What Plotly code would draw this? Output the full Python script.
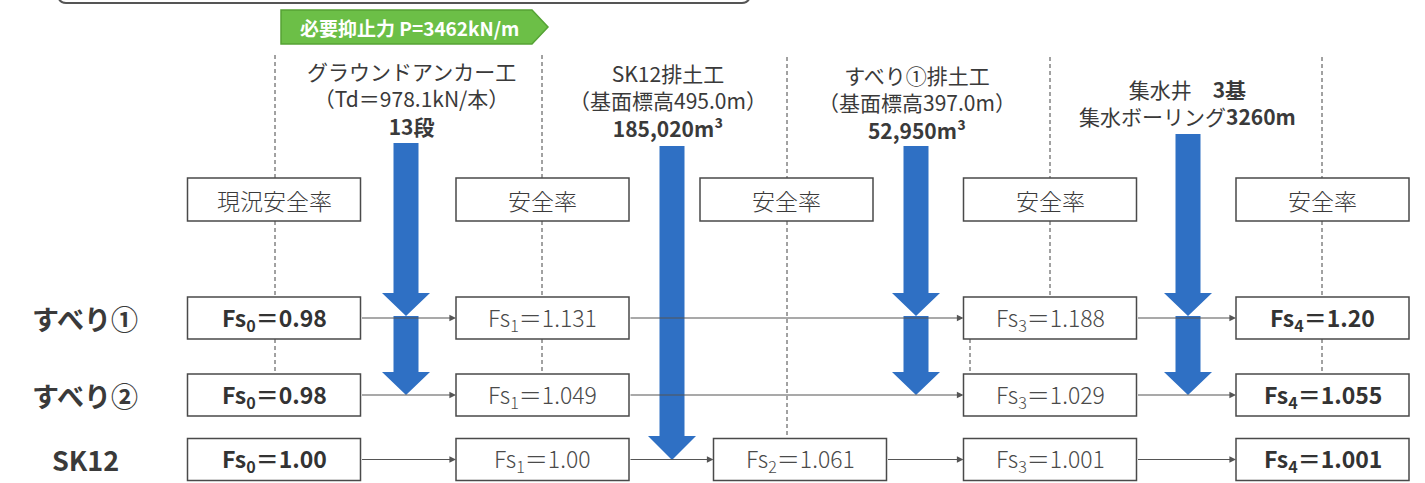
import plotly.graph_objects as go

# ---------------- data ----------------
row_labels = ["すべり①", "すべり②", "SK12"]
stage_headers = ["現況安全率", "安全率", "安全率", "安全率", "安全率"]
stage_index = [0, 1, 2, 3, 4]
# safety factors per row and stage (None = no box)
fs_row1 = ["0.98", "1.131", None, "1.188", "1.20"]
fs_row2 = ["0.98", "1.049", None, "1.029", "1.055"]
fs_row3 = ["1.00", "1.00", "1.061", "1.001", "1.001"]
fs_bold = [True, False, False, False, True]
required_force = "必要抑止力 P=3462kN/m"
measure_lines = [
    ["グラウンドアンカー工", "（Td＝978.1kN/本）", "<b>13段</b>"],
    ["SK12排土工", "（基面標高495.0m）", "<b>185,020m³</b>"],
    ["すべり①排土工", "（基面標高397.0m）", "<b>52,950m³</b>"],
    ["集水井　<b>3基</b>", "集水ボーリング<b>3260m</b>"],
]

# ---------------- layout constants ----------------
W, H = 1425, 483
FONT = "Noto Sans CJK JP"
TXT = "#3a3a3a"
LINE = "#4a4a4a"
BLUE = "#2f70c4"
box_cx = [274, 542.5, 800, 1050, 1322.5]
head_cx = [274, 542.5, 786.5, 1050, 1322.5]
BOX_W = 173
row_cy = [318, 395, 459.5]
BOX_H = 42
HEAD_Y0, HEAD_Y1 = 178, 221
dash_x = [275, 542, 787, 1050, 1322]
measure_cx = [411, 668, 917, 1187]
measure_cy = [98, 100, 102, 102]

fig = go.Figure()
shapes = []
ann = []

# top frame remnant
shapes.append(dict(type="path", path="M 58,-3 Q 60,3 66,3 L 742,3 Q 748,3 750,-3",
                   line=dict(color="#555", width=2), layer="below"))

# green arrow
shapes.append(dict(type="path", path="M 281,10 L 532,10 L 548,27 L 532,44 L 281,44 Z",
                   fillcolor="#6cbf47", line=dict(color="#55a335", width=1.5)))
ann.append(dict(x=409, y=27, text="<b>" + required_force + "</b>", showarrow=False,
                font=dict(family=FONT, size=19, color="white")))

# dashed guide lines
dash_segments = [
    (dash_x[0], [(55, HEAD_Y0), (HEAD_Y1, 297), (339, 374)]),
    (dash_x[1], [(55, HEAD_Y0), (HEAD_Y1, 297), (339, 374)]),
    (dash_x[2], [(57, HEAD_Y0), (HEAD_Y1, 438)]),
    (dash_x[3], [(57, HEAD_Y0), (HEAD_Y1, 297)]),
    (970, [(339, 374)]),
    (dash_x[4], [(57, HEAD_Y0), (HEAD_Y1, 297), (339, 374)]),
]
for x, segs in dash_segments:
    for y0, y1 in segs:
        shapes.append(dict(type="line", x0=x, x1=x, y0=y0, y1=y1,
                           line=dict(color="#444", width=1, dash="4px,3px"), layer="below"))

# header boxes
for i, h in zip(stage_index, stage_headers):
    cx = head_cx[i]
    shapes.append(dict(type="rect", x0=cx - BOX_W / 2, x1=cx + BOX_W / 2, y0=HEAD_Y0, y1=HEAD_Y1,
                       line=dict(color=LINE, width=1.5), fillcolor="white"))
    ann.append(dict(x=cx, y=(HEAD_Y0 + HEAD_Y1) / 2, text=h, showarrow=False,
                    font=dict(family=FONT, size=23, color=TXT, weight=300)))

# blue block arrows
def block_arrow(cx, y_top, y_head, y_tip, sw=12.5, hw=24):
    return (f"M {cx-sw},{y_top} L {cx+sw},{y_top} L {cx+sw},{y_head} L {cx+hw},{y_head} "
            f"L {cx},{y_tip} L {cx-hw},{y_head} L {cx-sw},{y_head} Z")

blue_arrows = [
    (406, 143, 293, 316), (406, 316, 372, 395),
    (672, 146, 436, 460),
    (916, 146, 293, 316), (916, 316, 372, 395),
    (1188, 134, 293, 316), (1188, 316, 372, 395),
]
for cx, yt, yh, ytip in blue_arrows:
    shapes.append(dict(type="path", path=block_arrow(cx, yt, yh, ytip),
                       fillcolor=BLUE, line=dict(width=0)))

# fs boxes + connecting arrows
fs_rows = [fs_row1, fs_row2, fs_row3]
for r, (label, vals) in enumerate(zip(row_labels, fs_rows)):
    cy = row_cy[r]
    ann.append(dict(x=85, y=cy, text="<b>" + label + "</b>", showarrow=False,
                    font=dict(family=FONT, size=27, color=TXT)))
    prev_right = None
    for i, v in zip(stage_index, vals):
        if v is None:
            continue
        cx = box_cx[i]
        x0, x1 = cx - BOX_W / 2, cx + BOX_W / 2
        shapes.append(dict(type="rect", x0=x0, x1=x1, y0=cy - BOX_H / 2, y1=cy + BOX_H / 2,
                           line=dict(color=LINE, width=1.5), fillcolor="white"))
        t = f"Fs<sub>{i}</sub>＝{v}"
        if fs_bold[i]:
            t = "<b>" + t + "</b>"
            fnt = dict(family=FONT, size=23, color="#333")
        else:
            fnt = dict(family=FONT, size=23, color="#4a4a4a", weight=300)
        ann.append(dict(x=cx, y=cy, text=t, showarrow=False, font=fnt))
        if prev_right is not None:
            ann.append(dict(x=x0, y=cy, ax=prev_right, ay=cy, axref="x", ayref="y",
                            xref="x", yref="y", text="", showarrow=True, arrowhead=2,
                            arrowsize=1.1, arrowwidth=1.2, arrowcolor="#555", standoff=0,
                            startstandoff=0))
        prev_right = x1

# measure texts
for cx, lines, cy in zip(measure_cx, measure_lines, measure_cy):
    ann.append(dict(x=cx, y=cy, text="<br>".join(lines), showarrow=False, align="center",
                    font=dict(family=FONT, size=21, color=TXT)))

fig.update_layout(
    width=W, height=H, margin=dict(l=0, r=0, t=0, b=0),
    paper_bgcolor="white", plot_bgcolor="white",
    xaxis=dict(range=[0, W], visible=False, fixedrange=True),
    yaxis=dict(range=[H, 0], visible=False, fixedrange=True),
    shapes=shapes, annotations=ann, showlegend=False,
)
fig.write_html("out.html", config={"displayModeBar": False})
